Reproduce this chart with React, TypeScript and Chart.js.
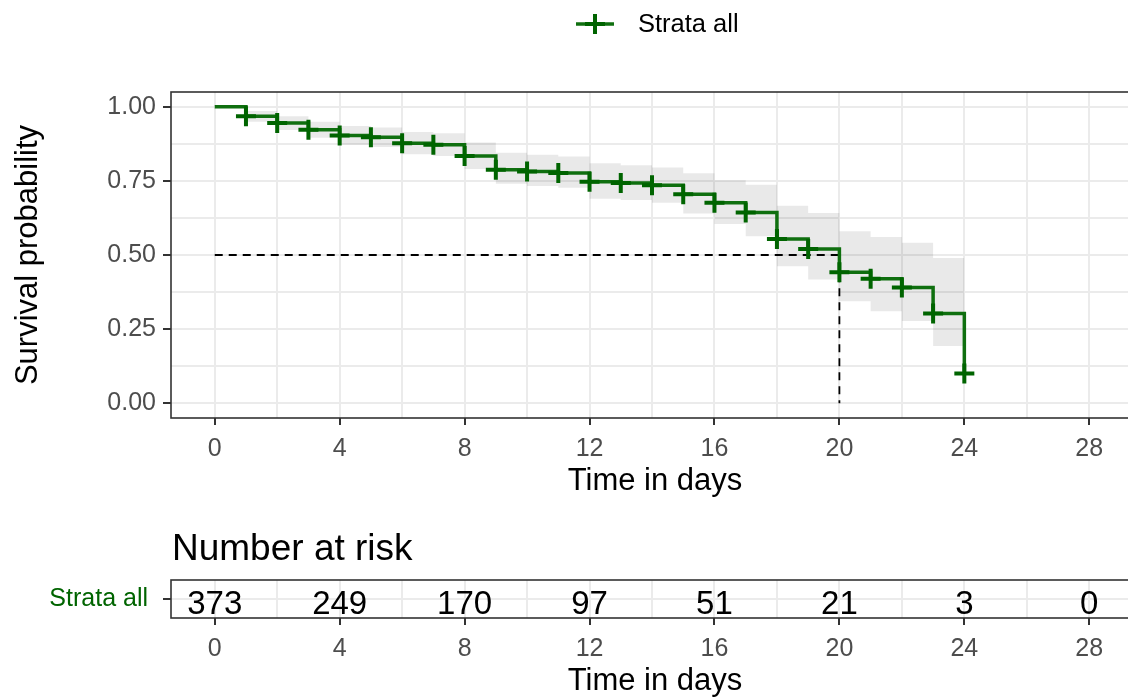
import React, { useEffect, useRef } from "react";
import { Chart, registerables } from "chart.js";

Chart.register(...registerables);

// ---------- data ----------
const times = [0, 1, 2, 3, 4, 5, 6, 7, 8, 9, 10, 11, 12, 13, 14, 15, 16, 17, 18, 19, 20, 21, 22, 23, 24];
const survival = [1.0, 0.968, 0.945, 0.923, 0.903, 0.897, 0.877, 0.872, 0.834, 0.788, 0.782, 0.777, 0.747, 0.743, 0.735, 0.705, 0.676, 0.643, 0.554, 0.52, 0.442, 0.42, 0.39, 0.303, 0.1];
const lowerCI = [1.0, 0.95, 0.922, 0.896, 0.872, 0.864, 0.84, 0.834, 0.79, 0.74, 0.733, 0.727, 0.69, 0.686, 0.676, 0.64, 0.605, 0.563, 0.462, 0.417, 0.344, 0.31, 0.277, 0.193, 0.193];
const upperCI = [1.0, 0.986, 0.968, 0.95, 0.935, 0.93, 0.915, 0.911, 0.88, 0.845, 0.838, 0.832, 0.81, 0.803, 0.795, 0.776, 0.752, 0.737, 0.666, 0.642, 0.58, 0.561, 0.541, 0.49, 0.49];
const censorTimes = [1, 2, 3, 4, 5, 6, 7, 8, 9, 10, 11, 12, 13, 14, 15, 16, 17, 18, 19, 20, 21, 22, 23, 24];
const medianTime = 20;
const medianSurv = 0.5;

const xTickLabels = [0, 4, 8, 12, 16, 20, 24, 28];
const xGrid = [0, 2, 4, 6, 8, 10, 12, 14, 16, 18, 20, 22, 24, 26, 28];
const yTickLabels = [0, 0.25, 0.5, 0.75, 1];
const yGrid = [0, 0.125, 0.25, 0.375, 0.5, 0.625, 0.75, 0.875, 1];

const riskTimes = [0, 4, 8, 12, 16, 20, 24, 28];
const riskCounts = [373, 249, 170, 97, 51, 21, 3, 0];
const strataName = "Strata all";

// ---------- style ----------
const FONT = "'Liberation Sans', Arial, Helvetica, sans-serif";
const GREEN = "#006400";
const LINE_GREEN = "#0f6f0f";
const GRID = "#ebebeb";
const TICK_TXT = "#4d4d4d";
const BORDER = "#333333";
const CW = 1140;
const CH = 698;

function text(ctx: CanvasRenderingContext2D, s: string, x: number, y: number, size: number, color: string, align: CanvasTextAlign = "center", baseline: CanvasTextBaseline = "alphabetic", rot = 0) {
  ctx.save();
  ctx.font = `${size}px ${FONT}`;
  ctx.fillStyle = color;
  ctx.textAlign = align;
  ctx.textBaseline = baseline;
  ctx.translate(x, y);
  if (rot) ctx.rotate(rot);
  ctx.fillText(s, 0, 0);
  ctx.restore();
}

function xScaleBase(showLabels: boolean, fitHeight: number) {
  return {
    type: "linear" as const,
    min: -1.4,
    max: 29.4,
    afterBuildTicks: (scale: any) => {
      scale.ticks = xGrid.map((v) => ({ value: v }));
    },
    afterFit: (scale: any) => {
      scale.height = fitHeight;
    },
    border: { display: false },
    grid: {
      color: GRID,
      lineWidth: 2,
      drawTicks: true,
      tickLength: 7,
      tickWidth: 2,
      tickColor: (c: any) => (c.tick && xTickLabels.includes(c.tick.value) ? BORDER : "rgba(0,0,0,0)"),
    },
    ticks: {
      autoSkip: false,
      maxRotation: 0,
      padding: 9,
      color: TICK_TXT,
      font: { size: 25, family: FONT },
      callback: (v: any) => (showLabels && xTickLabels.includes(v) ? String(v) : ""),
    },
  };
}

const mainDecor = {
  id: "mainDecor",
  afterDatasetsDraw(chart: any) {
    const { ctx, chartArea: a } = chart;
    ctx.save();
    ctx.strokeStyle = BORDER;
    ctx.lineWidth = 1.6;
    ctx.strokeRect(a.left, a.top, a.right - a.left, a.bottom - a.top);
    ctx.restore();
  },
  afterDraw(chart: any) {
    const { ctx, chartArea: a } = chart;
    const cx = (a.left + a.right) / 2;
    text(ctx, "Survival probability", 28, (a.top + a.bottom) / 2, 31, "#000", "center", "middle", -Math.PI / 2);
    text(ctx, "Time in days", cx + 3, 490, 31, "#000");
    // legend
    ctx.save();
    ctx.strokeStyle = LINE_GREEN;
    ctx.lineWidth = 3.5;
    ctx.beginPath();
    ctx.moveTo(576, 24);
    ctx.lineTo(614, 24);
    ctx.stroke();
    ctx.strokeStyle = GREEN;
    ctx.lineWidth = 4;
    ctx.beginPath();
    ctx.moveTo(585, 24);
    ctx.lineTo(605, 24);
    ctx.moveTo(595, 14);
    ctx.lineTo(595, 34);
    ctx.stroke();
    ctx.restore();
    text(ctx, strataName, 638, 25, 25.5, "#000", "left", "middle");
  },
};

const riskDecor = {
  id: "riskDecor",
  afterDatasetsDraw(chart: any) {
    const { ctx, chartArea: a } = chart;
    const meta = chart.getDatasetMeta(0);
    meta.data.forEach((el: any, i: number) => {
      text(ctx, String(riskCounts[i]), el.x, el.y + 14.5, 33, "#000", "center", "alphabetic");
    });
    ctx.save();
    ctx.strokeStyle = BORDER;
    ctx.lineWidth = 1.6;
    ctx.strokeRect(a.left, a.top, a.right - a.left, a.bottom - a.top);
    ctx.restore();
    const cx = (a.left + a.right) / 2;
    text(ctx, "Number at risk", a.left + 1, 560, 37, "#000", "left");
    text(ctx, "Time in days", cx + 3, 690, 31, "#000");
  },
};

export default function App() {
  const mainRef = useRef<HTMLCanvasElement | null>(null);
  const riskRef = useRef<HTMLCanvasElement | null>(null);

  useEffect(() => {
    Chart.defaults.font.family = FONT;
    const survPts = times.map((t, i) => ({ x: t, y: survival[i] }));
    const upPts = times.map((t, i) => ({ x: t, y: upperCI[i] }));
    const loPts = times.map((t, i) => ({ x: t, y: lowerCI[i] }));
    const censPts = censorTimes.map((t) => ({ x: t, y: survival[times.indexOf(t)] }));
    const medPts = [
      { x: 0, y: medianSurv },
      { x: medianTime, y: medianSurv },
      { x: medianTime, y: 0 },
    ];

    const main = new Chart(mainRef.current as HTMLCanvasElement, {
      type: "line",
      data: {
        datasets: [
          { data: upPts, borderWidth: 0, pointRadius: 0, stepped: "before", fill: false, order: 5, borderColor: "rgba(0,0,0,0)" },
          { data: loPts, borderWidth: 0, pointRadius: 0, stepped: "before", fill: "-1", backgroundColor: "rgba(0,0,0,0.085)", order: 4, borderColor: "rgba(0,0,0,0)" },
          { data: medPts, borderColor: "#000", borderWidth: 1.8, borderDash: [8, 6], pointRadius: 0, fill: false, order: 3 },
          { data: survPts, borderColor: LINE_GREEN, borderWidth: 3.5, stepped: "before", pointRadius: 0, fill: false, order: 2 },
          { data: censPts, showLine: false, pointStyle: "cross", pointRadius: 10, pointBorderWidth: 4, pointBorderColor: GREEN, borderColor: GREEN, order: 1 },
        ] as any,
      },
      options: {
        responsive: false,
        devicePixelRatio: 1,
        animation: false,
        layout: { autoPadding: false, padding: { left: 0, right: CW - 1133, top: 92, bottom: 0 } },
        plugins: { legend: { display: false }, tooltip: { enabled: false } },
        scales: {
          x: xScaleBase(true, CH - 418),
          y: {
            type: "linear",
            min: -0.05,
            max: 1.05,
            afterBuildTicks: (scale: any) => {
              scale.ticks = yGrid.map((v) => ({ value: v }));
            },
            afterFit: (scale: any) => {
              scale.width = 171;
            },
            border: { display: false },
            grid: {
              color: GRID,
              lineWidth: 2,
              drawTicks: true,
              tickLength: 8,
              tickWidth: 2,
              tickColor: (c: any) => (c.tick && yTickLabels.includes(c.tick.value) ? BORDER : "rgba(0,0,0,0)"),
            },
            ticks: {
              autoSkip: false,
              padding: 7,
              color: TICK_TXT,
              font: { size: 25, family: FONT },
              callback: (v: any) => (yTickLabels.includes(v) ? Number(v).toFixed(2) : ""),
            },
          },
        },
      } as any,
      plugins: [mainDecor],
    });

    const risk = new Chart(riskRef.current as HTMLCanvasElement, {
      type: "line",
      data: {
        datasets: [
          { data: riskTimes.map((t) => ({ x: t, y: 0.5 })), showLine: false, pointRadius: 0 },
        ] as any,
      },
      options: {
        responsive: false,
        devicePixelRatio: 1,
        animation: false,
        layout: { autoPadding: false, padding: { left: 0, right: CW - 1133, top: 580, bottom: 0 } },
        plugins: { legend: { display: false }, tooltip: { enabled: false } },
        scales: {
          x: xScaleBase(true, CH - 618),
          y: {
            type: "linear",
            min: 0,
            max: 1,
            afterBuildTicks: (scale: any) => {
              scale.ticks = [{ value: 0.5 }];
            },
            afterFit: (scale: any) => {
              scale.width = 171;
            },
            border: { display: false },
            grid: { color: GRID, lineWidth: 2, drawTicks: true, tickLength: 8, tickWidth: 2, tickColor: BORDER },
            ticks: {
              padding: 15,
              color: GREEN,
              font: { size: 25, family: FONT },
              callback: () => strataName,
            },
          },
        },
      } as any,
      plugins: [riskDecor],
    });

    return () => {
      main.destroy();
      risk.destroy();
    };
  }, []);

  return (
    <div style={{ position: "fixed", left: 0, top: 0, width: 1128, height: 698, overflow: "hidden", background: "#fff" }}>
      <canvas ref={mainRef} width={CW} height={CH} style={{ position: "absolute", left: 0, top: 0, width: CW, height: CH }} />
      <canvas ref={riskRef} width={CW} height={CH} style={{ position: "absolute", left: 0, top: 0, width: CW, height: CH }} />
    </div>
  );
}
